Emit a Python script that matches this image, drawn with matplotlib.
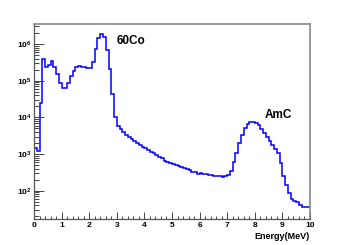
import numpy as np
import matplotlib
matplotlib.use("Agg")
import matplotlib.pyplot as plt
from matplotlib.ticker import LogLocator, MultipleLocator, FixedLocator, NullFormatter

plt.rcParams['font.family'] = ['Liberation Sans', 'DejaVu Sans']
plt.rcParams['mathtext.fontset'] = 'custom'
plt.rcParams['mathtext.rm'] = 'Liberation Sans:bold'
plt.rcParams['mathtext.it'] = 'Liberation Sans:bold'
plt.rcParams['mathtext.bf'] = 'Liberation Sans:bold'

# histogram: 100 bins of 0.1 MeV from 0 to 10 MeV
bin_edges = np.linspace(0, 10, 101)
counts = [
    1500, 1200, 25000, 4.0e5, 2.3e5, 2.7e5, 3.5e5, 2.3e5, 1.5e5, 8.5e4,
    6.3e4, 6.3e4, 8.5e4, 1.3e5, 1.8e5, 2.3e5, 2.5e5, 2.4e5, 2.3e5, 2.15e5,
    2.2e5, 3.2e5, 7.2e5, 1.43e6, 1.85e6, 1.55e6, 7.0e5, 2.1e5, 4.4e4, 1.0e4,
    6.0e3, 4.9e3, 4.0e3, 3.3e3, 2.9e3, 2.5e3, 2.2e3, 2.0e3, 1.75e3, 1.6e3,
    1.47e3, 1.3e3, 1.15e3, 1.05e3, 940, 850, 760, 660, 600, 560,
    540, 490, 470, 445, 415, 400, 360, 330, 325, 295,
    310, 295, 282, 277, 265, 250, 246, 246, 230, 250,
    265, 355, 590, 1050, 1950, 3400, 5000, 6500, 7500, 7700,
    7200, 6200, 4900, 3800, 2900, 2200, 1780, 1350, 1050, 560,
    250, 144, 89, 59, 51, 48, 41, 37, 37, 35,
]
x_ticks = [0, 1, 2, 3, 4, 5, 6, 7, 8, 9, 10]
y_ticks = [1e2, 1e3, 1e4, 1e5, 1e6]
y_tick_labels = [r'$10^{2}$', r'$10^{3}$', r'$10^{4}$', r'$10^{5}$', r'$10^{6}$']

fig = plt.figure(figsize=(3.46, 2.45), dpi=100)
ax = fig.add_axes([34/346, 1-219/245, (310-34)/346, (219-24)/245])

ax.stairs(counts, bin_edges, color='#0000ff', lw=1.1, baseline=None)

ax.set_yscale('log')
ax.set_xlim(0, 10)
ax.set_ylim(17, 3.5e6)

ax.xaxis.set_major_locator(FixedLocator(x_ticks))
ax.xaxis.set_minor_locator(MultipleLocator(0.2))
ax.set_xticklabels([str(t) for t in x_ticks])
ax.yaxis.set_major_locator(FixedLocator(y_ticks))
ax.set_yticklabels(y_tick_labels)
ax.yaxis.set_minor_locator(LogLocator(base=10, subs=np.arange(2, 10), numticks=20))
ax.yaxis.set_minor_formatter(NullFormatter())

ax.tick_params(axis='both', which='both', direction='in', color='#444444',
               labelsize=6, top=False, right=False, width=0.7)
ax.tick_params(axis='y', which='major', length=7, pad=2)
ax.tick_params(axis='y', which='minor', length=3.5)
ax.tick_params(axis='x', which='major', length=5, pad=2)
ax.tick_params(axis='x', which='minor', length=2.5)
for lab in ax.get_xticklabels() + ax.get_yticklabels():
    lab.set_fontweight('bold')

for side in ['top', 'right']:
    ax.spines[side].set_color('#888888')
    ax.spines[side].set_linewidth(1.2)
for side in ['left', 'bottom']:
    ax.spines[side].set_color('#555555')
    ax.spines[side].set_linewidth(0.9)

ax.text(117/346, 1-41/245, '60Co', transform=fig.transFigure, fontsize=8.5,
        fontweight='bold', ha='left', va='center')
ax.text(265/346, 1-115/245, 'AmC', transform=fig.transFigure, fontsize=8.5,
        fontweight='bold', ha='left', va='center')

ax.set_xlabel('Energy(MeV)', fontsize=6.5, fontweight='bold', loc='right', labelpad=2)

fig.savefig('out.png', dpi=100)
